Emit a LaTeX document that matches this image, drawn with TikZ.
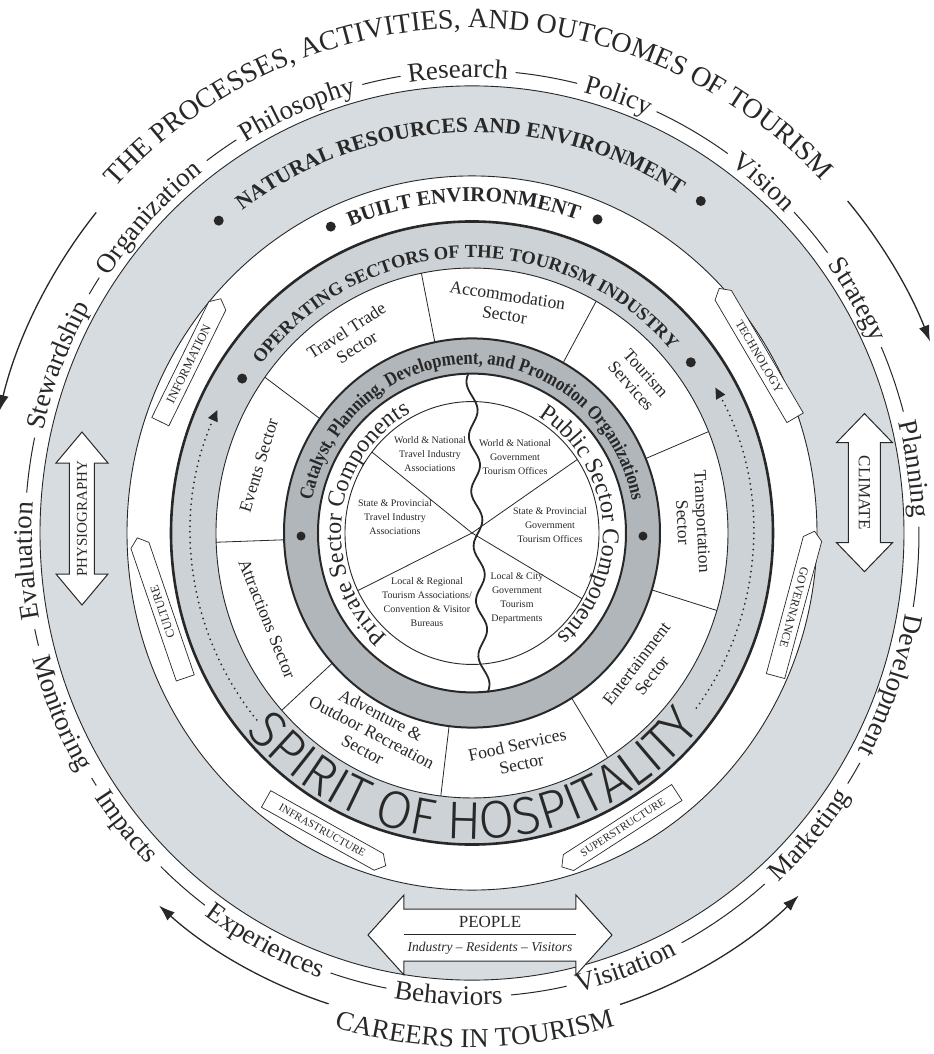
\documentclass[tikz,border=0pt]{standalone}
\usepackage{fontspec}
\setmainfont{Liberation Serif}
\newfontfamily\spiritfont[FakeStretch=0.98]{Fira Sans Light}
\newfontfamily\catfamily[FakeStretch=0.86]{Liberation Serif}
\usetikzlibrary{decorations.text,shapes.arrows,arrows.meta}
\definecolor{natgray}{RGB}{214,220,223}
\definecolor{opgray}{RGB}{204,210,213}
\definecolor{catgray}{RGB}{176,182,186}
\definecolor{ink}{RGB}{40,40,40}
\newcommand\kwfont{\fontsize{27}{30}\selectfont}
\newcommand\ttlfont{\fontsize{28}{32}\selectfont}
\newcommand\crfont{\fontsize{27}{32}\selectfont}
\newcommand\natfont{\fontsize{21.5}{24}\selectfont\bfseries}
\newcommand\bltfont{\fontsize{21}{24}\selectfont\bfseries}
\newcommand\opfont{\fontsize{18.5}{22}\selectfont\bfseries}
\newcommand\catfont{\catfamily\fontsize{19.5}{22}\selectfont\bfseries}
\newcommand\pscfont{\fontsize{24}{28}\selectfont}
\newcommand\spfont{\spiritfont\fontsize{53}{53}\selectfont}
% clockwise text (letters outward): radius, centre angle, half span, text
\newcommand\arctextcw[4]{%
  \path[decorate,decoration={text along path,text align=center,text color=ink,text={#4}}]
    ({#2+#3}:#1) arc[start angle={#2+#3},end angle={#2-#3},radius=#1];}
% counter-clockwise text (letters inward)
\newcommand\arctextccw[4]{%
  \path[decorate,decoration={text along path,text align=center,text color=ink,text={#4}}]
    ({#2-#3}:#1) arc[start angle={#2-#3},end angle={#2+#3},radius=#1];}
\newcommand\dasharc[3]{\draw[ink,line width=1pt] (#1:#3) arc[start angle=#1,end angle=#2,radius=#3];}
% hollow double arrow outline: centre x, centre y, rotation, length, shaft half, head half, head length
\newcommand\hollowdbl[7]{%
  \begin{scope}[shift={(#1,#2)},x=1pt,y=1pt,rotate=#3]
  \filldraw[draw=ink,fill=white,line width=1pt,line join=miter]
    ({-#4/2},0) -- ({-#4/2+#7},#6) -- ({-#4/2+#7},#5) -- ({#4/2-#7},#5) -- ({#4/2-#7},#6)
    -- ({#4/2},0) -- ({#4/2-#7},-#6) -- ({#4/2-#7},-#5) -- ({-#4/2+#7},-#5) -- ({-#4/2+#7},-#6) -- cycle;
  \end{scope}}
\begin{document}
\begin{tikzpicture}[x=1pt,y=1.035pt,
  thinline/.style={draw=ink,line width=0.9pt},
  seclabel/.style={align=center,text=ink,font=\fontsize{17.5}{19.5}\selectfont},
  innerlabel/.style={align=center,text=ink,font=\fontsize{10}{14}\selectfont},
  pencil/.style={single arrow,draw=ink,fill=white,line width=0.7pt,single arrow head extend=0pt,
    single arrow tip angle=100,minimum width=19pt,inner sep=1pt,text=ink,font=\fontsize{12}{12}\selectfont},
  bigarrow/.style={ink,line width=1.3pt,-{Latex[length=16pt,width=11pt]}},
  dotarrow/.style={ink,line width=2pt,line cap=round,dash pattern=on 0pt off 5.5pt,-{Triangle[length=11pt,width=10pt]}}]
\fill[white] (-472,-503.38) rectangle (462,514.98);
\useasboundingbox (-472,-503.38) rectangle (462,514.98);

% ---- bands
\fill[natgray,even odd rule] (0,0) circle[radius=432] (0,0) circle[radius=345];
\fill[opgray,even odd rule] (0,0) circle[radius=301] (0,0) circle[radius=256];
\fill[catgray,even odd rule] (0,0) circle[radius=188] (0,0) circle[radius=154];
\draw[thinline] (0,0) circle[radius=432];
\draw[thinline] (0,0) circle[radius=345];
\draw[ink,line width=2.6pt] (0,0) circle[radius=301];
\draw[thinline] (0,0) circle[radius=256];
\draw[ink,line width=2pt] (0,0) circle[radius=188];
\draw[ink,line width=2pt] (0,0) circle[radius=154];
\draw[thinline] (0,0) circle[radius=127];

% ---- sector divisions
\foreach \a in {101.4,61,22.5,-17,-58,-97,222,182,144}
  \draw[ink,line width=0.8pt] (\a:188) -- (\a:256);
\foreach \a in {34,206,142,-30}
  \draw[ink,line width=0.8pt] (0,0) -- (\a:127);
\draw[ink,line width=1.8pt] plot[smooth,samples=90,domain=154:-154,variable=\t]
  ({6-0.045*\t+5*sin(6.8*\t)},\t);

% ---- inner sector labels
\node[innerlabel] (wnt) at (-42,76) {World \& National\\Travel Industry\\Associations};
\node[innerlabel] (wng) at (43,73) {World \& National\\Government\\Tourism Offices};
\node[innerlabel] (spt) at (-77,15.5) {State \& Provincial\\Travel Industry\\Associations};
\node[innerlabel] (spg) at (78,7.7) {State \& Provincial\\Government\\Tourism Offices};
\node[innerlabel] (lrt) at (-45,-66.7) {Local \& Regional\\Tourism Associations/\\Convention \& Visitor\\Bureaus};
\node[innerlabel] (lcg) at (45,-62.8) {Local \& City\\Government\\Tourism\\Departments};

% ---- private / public
\arctextcw{131}{173.75}{100}{|\pscfont|Private Sector Components}
\arctextcw{131}{5}{100}{|\pscfont|Public Sector Components}

% ---- catalyst ring text
\arctextcw{163}{90}{90}{|\catfont|Catalyst, Planning, Development, and Promotion Organizations}
\fill[ink] (181:171) circle[radius=4.5pt];
\fill[ink] (-1:171) circle[radius=4.5pt];

% ---- operating sectors
\node[seclabel,rotate=-8.8] (acc) at (81.2:223) {Accommodation\\Sector};
\node[seclabel,rotate=32.7] (ttr) at (122.7:223) {Travel Trade\\Sector};
\node[seclabel,rotate=-48.3] (tsv) at (41.7:223) {Tourism\\Services};
\node[seclabel,rotate=-87.25] (trn) at (2.75:221) {Transportation\\Sector};
\node[seclabel,rotate=52.5] (ent) at (-37.5:217) {Entertainment\\Sector};
\node[seclabel,rotate=12.5] (fsv) at (-77.5:219) {Food Services\\Sector};
\node[seclabel,rotate=-27.5] (adv) at (242.5:217) {Adventure \&\\Outdoor Recreation\\Sector};
\node[seclabel,rotate=-68] (att) at (202:221) {Attractions Sector};
\node[seclabel,rotate=73] (evt) at (163:223) {Events Sector};

\arctextcw{266}{92}{80}{|\opfont|OPERATING SECTORS OF THE TOURISM INDUSTRY}
\fill[ink] (147:274) circle[radius=5pt];
\fill[ink] (37:274) circle[radius=5pt];
\arctextccw{296}{270.5}{90}{|\spfont|SPIRIT OF HOSPITALITY}
\draw[dotarrow] (220:281) arc[start angle=220,end angle=155,radius=281];
\draw[dotarrow] (-37:281) arc[start angle=-37,end angle=30,radius=281];

% ---- built environment
\arctextcw{320}{91.5}{60}{|\bltfont|BUILT ENVIRONMENT}
\fill[ink] (115.5:328) circle[radius=5pt];
\fill[ink] (67.5:328) circle[radius=5pt];
\node[pencil,rotate=63.8,minimum height=137pt,font=\fontsize{12.5}{12.5}\selectfont] (info) at (150:327) {INFORMATION};
\node[pencil,rotate=108.9,minimum height=148pt] (cult) at (193.8:318.6) {CULTURE};
\node[pencil,rotate=-59.6,shape border rotate=180,minimum height=150pt] (tech) at (30.7:334) {TECHNOLOGY};
\node[pencil,rotate=-105.1,shape border rotate=180,minimum height=150pt] (gov) at (-12.6:330) {GOVERNANCE};
\node[pencil,rotate=-29.2,minimum height=137pt,font=\fontsize{11}{11}\selectfont] (infra) at (242.5:324) {INFRASTRUCTURE};
\node[pencil,rotate=32.9,shape border rotate=180,minimum height=137pt,font=\fontsize{11}{11}\selectfont] (super) at (297.9:322) {SUPERSTRUCTURE};

% ---- natural resources
\arctextcw{387}{92}{60}{|\natfont|NATURAL RESOURCES AND ENVIRONMENT}
\fill[ink] (130:394) circle[radius=5pt];
\fill[ink] (54.5:394) circle[radius=5pt];
\hollowdbl{-390}{14}{90}{173}{12.5}{26}{31}
\node[rotate=90,text=ink,font=\fontsize{15}{15}\selectfont] (phys) at (-390,14) {PHYSIOGRAPHY};
\hollowdbl{392.5}{39}{90}{158}{16}{28}{29}
\node[rotate=-90,text=ink,font=\fontsize{17}{17}\selectfont] (clim) at (392.5,39) {CLIMATE};
\hollowdbl{18}{-388.4}{0}{244}{26}{40}{36}
\node[text=ink,font=\fontsize{17}{17}\selectfont] (people) at (18,-375.5) {PEOPLE};
\node[text=ink,font=\itshape\fontsize{13.5}{14}\selectfont] (pplsub) at (18,-401) {Industry -- Residents -- Visitors};
\draw[ink,line width=0.8pt] ([shift={(-86pt,-12.5pt)}]people.center) -- ([shift={(86pt,-12.5pt)}]people.center);

% ---- keyword ring
\arctextcw{440}{183.5}{25}{|\kwfont|Evaluation}
\arctextcw{440}{158.5}{25}{|\kwfont|Stewardship}
\arctextcw{440}{136.5}{25}{|\kwfont|Organization}
\arctextcw{440}{113}{25}{|\kwfont|Philosophy}
\arctextcw{440}{91.8}{25}{|\kwfont|Research}
\arctextcw{440}{71}{25}{|\kwfont|Policy}
\arctextcw{440}{49.5}{25}{|\kwfont|Vision}
\arctextcw{440}{30.5}{25}{|\kwfont|Strategy}
\arctextcw{440}{8}{25}{|\kwfont|Planning}
\arctextcw{440}{-19.5}{25}{|\kwfont|Development}
\arctextccw{456}{203}{25}{|\kwfont|Monitoring}
\arctextccw{456}{219.5}{25}{|\kwfont|Impacts}
\arctextccw{456}{242.5}{25}{|\kwfont|Experiences}
\arctextccw{456}{267}{25}{|\kwfont|Behaviors}
\arctextccw{456}{290}{25}{|\kwfont|Visitation}
\arctextccw{456}{319}{25}{|\kwfont|Marketing}
\dasharc{192.0}{194.1}{447}
\dasharc{168.1}{175.0}{447}
\dasharc{146.5}{148.9}{447}
\dasharc{121.8}{126.4}{447}
\dasharc{99.2}{104.2}{447}
\dasharc{76.4}{84.4}{447}
\dasharc{55.1}{65.6}{447}
\dasharc{37.3}{43.9}{447}
\dasharc{15.2}{23.7}{447}
\dasharc{-9.2}{0.8}{447}
\dasharc{-32.8}{-29.8}{447}
\dasharc{211.9}{213.0}{448}
\dasharc{226.0}{233.4}{448}
\dasharc{251.6}{259.0}{448}
\dasharc{275.0}{282.2}{448}
\dasharc{297.9}{310.8}{448}

% ---- titles and outer arrows
\arctextcw{488}{90.5}{60}{|\ttlfont|THE PROCESSES, ACTIVITIES, AND OUTCOMES OF TOURISM}
\arctextccw{497}{270.3}{40}{|\crfont|CAREERS IN TOURISM}
\draw[bigarrow] (140.5:487) arc[start angle=140.5,end angle=166,radius=487];
\draw[bigarrow] (40.5:494) arc[start angle=40.5,end angle=22,radius=494];
\draw[bigarrow] (252.5:477) arc[start angle=252.5,end angle=229,radius=477];
\draw[bigarrow] (288:479) arc[start angle=288,end angle=313,radius=479];
\end{tikzpicture}
\end{document}
